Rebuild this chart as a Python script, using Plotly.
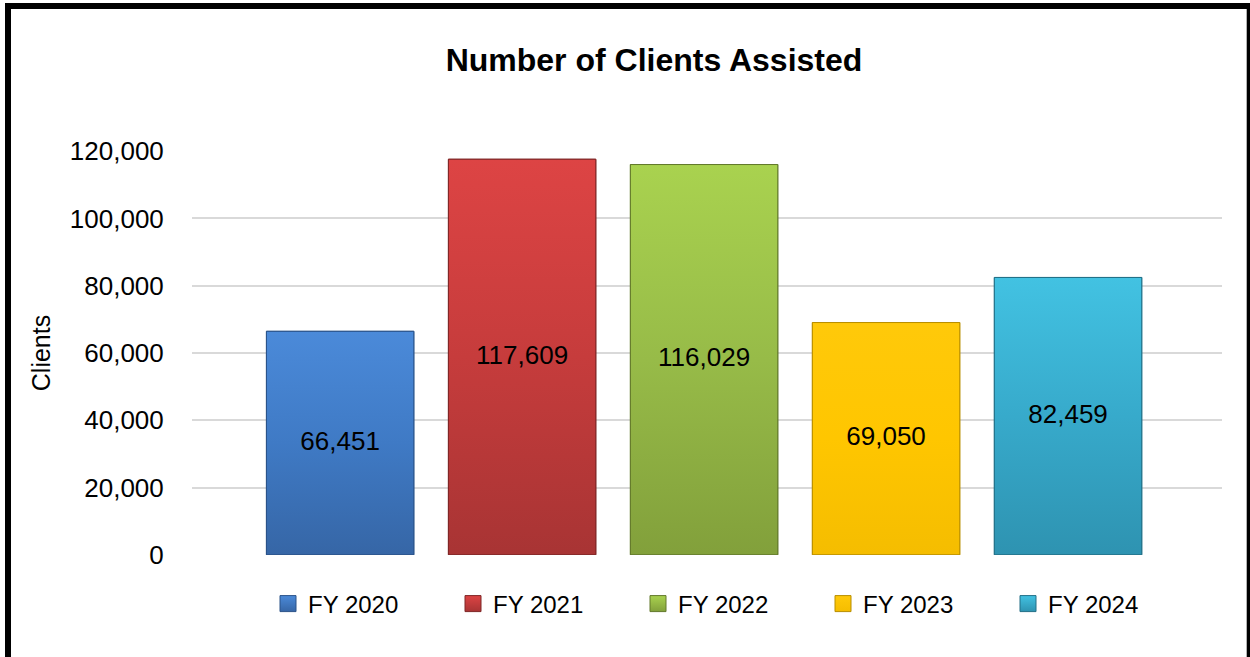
import plotly.graph_objects as go

categories = ["FY 2020", "FY 2021", "FY 2022", "FY 2023", "FY 2024"]
clients = [66451, 117609, 116029, 69050, 82459]
labels = ["66,451", "117,609", "116,029", "69,050", "82,459"]
top_colors = ["#4b8ad9", "#dd4444", "#a9d24f", "#ffc90a", "#42c2e2"]
mid_colors = ["#3f7ac5", "#c63c3c", "#97bb48", "#ffc600", "#37aacb"]
bottom_colors = ["#3666a6", "#a83434", "#82a03b", "#f5bd00", "#2e93b1"]
edge_colors = ["#2a5288", "#7e2626", "#62782b", "#b88e00", "#226f86"]

W, H = 1250, 657
L, R, T, B = 192, 28, 151, 102
pw, ph = W - L - R, H - T - B
FONT = "Liberation Sans"
bar_w = 0.81

fig = go.Figure()

# base bars
for i, (c, v) in enumerate(zip(categories, clients)):
    fig.add_trace(go.Bar(
        x=[i], y=[v], name=c, width=bar_w,
        marker=dict(color=mid_colors[i], line=dict(color=edge_colors[i], width=1)),
        hoverinfo="skip", showlegend=False,
    ))

# gradient fills over bars
for i, v in enumerate(clients):
    xs = [i - bar_w / 2, i + bar_w / 2, i + bar_w / 2, i - bar_w / 2, i - bar_w / 2]
    ys = [0, 0, v, v, 0]
    fig.add_trace(go.Scatter(
        x=xs, y=ys, mode="lines", fill="toself",
        line=dict(color=edge_colors[i], width=1),
        fillgradient=dict(type="vertical",
                          colorscale=[[0, bottom_colors[i]], [0.5, mid_colors[i]], [1, top_colors[i]]]),
        showlegend=False, hoverinfo="skip",
    ))

# legend entries (square swatches)
for i, c in enumerate(categories):
    fig.add_trace(go.Scatter(
        x=[None], y=[None], mode="markers", name=c,
        marker=dict(symbol="square", size=16, color=top_colors[i],
                    gradient=dict(type="vertical", color=bottom_colors[i]),
                    line=dict(color=edge_colors[i], width=1)),
    ))

# data labels centered in bars
fig.add_trace(go.Scatter(
    x=list(range(len(clients))), y=[v / 2 for v in clients],
    mode="text", text=labels,
    textfont=dict(family=FONT, size=26, color="black"),
    showlegend=False, hoverinfo="skip",
))

def px_x(p):
    return (p - L) / pw

def px_y(p):
    return (H - B - p) / ph

fig.update_layout(
    width=W, height=H,
    margin=dict(l=L, r=R, t=T, b=B),
    paper_bgcolor="white", plot_bgcolor="white",
    barmode="overlay",
    font=dict(family=FONT, color="black"),
    title=dict(text="<b>Number of Clients Assisted</b>", x=654 / W, xanchor="center",
               y=1 - 60 / H, yanchor="middle", font=dict(family=FONT, size=32, color="black")),
    xaxis=dict(range=[-0.814, 4.846], showticklabels=False, showgrid=False, zeroline=False,
               showline=False, ticks=""),
    yaxis=dict(range=[-60, 120060], tickvals=[0, 20000, 40000, 60000, 80000, 100000, 120000],
               tickformat=",d", showgrid=True, gridcolor="#d9d9d9", gridwidth=1.5,
               zeroline=False, showline=False, ticks="outside", ticklen=22,
               tickcolor="rgba(0,0,0,0)", tickfont=dict(family=FONT, size=26, color="black"),
               title=dict(text="Clients", font=dict(family=FONT, size=25, color="black"), standoff=12)),
    legend=dict(orientation="h", x=px_x(268), xanchor="left", y=px_y(604), yanchor="middle",
                font=dict(family=FONT, size=24, color="black"), entrywidth=140, entrywidthmode="pixels",
                traceorder="normal", itemwidth=30, bgcolor="rgba(0,0,0,0)"),
    shapes=[dict(type="rect", xref="paper", yref="paper",
                 x0=px_x(8), x1=px_x(1249.7), y0=px_y(6), y1=px_y(675),
                 line=dict(color="black", width=6), fillcolor="rgba(0,0,0,0)", layer="above")],
)

fig.write_html("out.html", config={"displayModeBar": False},
               post_script="document.body.style.margin='0';document.body.style.overflow='hidden';")
